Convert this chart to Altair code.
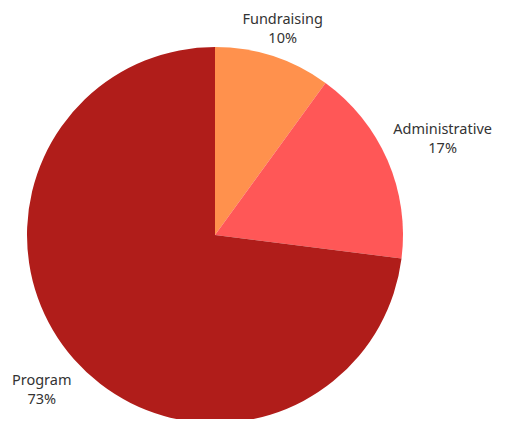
import altair as alt
import pandas as pd

categories = ["Fundraising", "Administrative", "Program"]
values = [10, 17, 73]
colors = ["#FF914D", "#FF5757", "#B01D1A"]

df = pd.DataFrame({
    "category": categories,
    "value": values,
    "order": list(range(len(categories))),
})
df["label"] = [f"{c}\n{v}%" for c, v in zip(categories, values)]

cx, cy = 207, 227

base = alt.Chart(df).encode(
    theta=alt.Theta("value:Q", stack=True),
    order=alt.Order("order:Q"),
)

pie = base.mark_arc(stroke=None).encode(
    color=alt.Color("category:N", scale=alt.Scale(domain=categories, range=colors), legend=None),
    x=alt.value(cx),
    y=alt.value(cy),
    radius=alt.value(188),
)

labels = base.mark_text(
    font="Noto Sans", fontSize=14.5, color="#333333", lineBreak="\n",
    align="center", baseline="middle", lineHeight=19, dy=-7,
    radius=alt.expr("datum.category === 'Administrative' ? 248 : (datum.category === 'Fundraising' ? 219 : 231)"),
).encode(
    text="label:N",
    x=alt.value(cx),
    y=alt.value(cy),
)

chart = (pie + labels).properties(
    width=490, height=411, padding=0, autosize=alt.AutoSizeParams(type="none"),
).configure_view(stroke=None)

chart.save("out.html", embed_options={"renderer": "svg", "actions": False})
